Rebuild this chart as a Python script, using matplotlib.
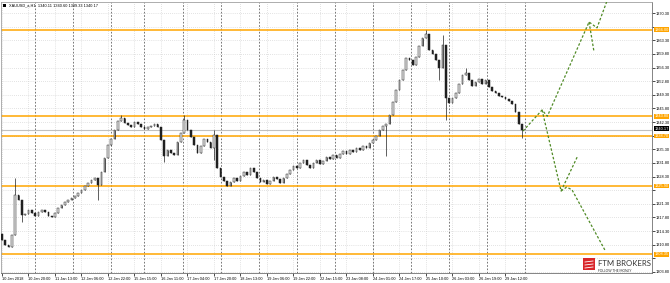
import matplotlib
matplotlib.use("Agg")
import matplotlib.pyplot as plt
from matplotlib.patches import Rectangle
import matplotlib.transforms as mtransforms

closes = [
    1312.0, 1310.7, 1310.2, 1313.3, 1323.6, 1322.3, 1318.4, 1318.7, 1319.7, 1319.0,
    1318.2, 1319.2, 1319.7, 1319.2, 1318.2, 1317.9, 1319.0, 1320.2, 1321.0, 1321.8,
    1322.3, 1322.8, 1323.3, 1324.1, 1324.9, 1325.9, 1326.6, 1327.4, 1327.9, 1326.1,
    1329.5, 1333.1, 1336.4, 1338.0, 1340.3, 1342.6, 1343.3, 1342.1, 1341.6, 1341.0,
    1342.3, 1341.8, 1341.0, 1340.5, 1341.0, 1341.3, 1341.8, 1341.0, 1337.7, 1333.6,
    1335.1, 1334.4, 1333.8, 1337.2, 1339.5, 1342.8, 1340.3, 1338.5, 1336.4, 1334.4,
    1336.2, 1338.0, 1337.2, 1335.6, 1339.0, 1330.5, 1328.2, 1327.2, 1325.9, 1326.9,
    1327.9, 1327.2, 1328.5, 1329.5, 1328.7, 1330.5, 1329.5, 1327.9, 1326.9, 1327.4,
    1326.4, 1327.2, 1328.2, 1327.7, 1326.6, 1327.9, 1329.0, 1330.0, 1331.0, 1330.5,
    1331.8, 1332.6, 1331.3, 1330.5, 1331.8, 1332.6, 1331.5, 1332.3, 1333.3, 1332.8,
    1333.8, 1333.1, 1334.1, 1334.9, 1334.1, 1335.1, 1334.6, 1335.6, 1335.1, 1336.2,
    1335.6, 1336.9, 1337.7, 1338.7, 1340.3, 1341.3, 1341.8, 1344.1, 1347.4, 1350.5,
    1353.1, 1355.7, 1358.7, 1358.2, 1357.0, 1359.0, 1361.8, 1363.9, 1364.9, 1360.8,
    1359.8, 1358.2, 1356.2, 1362.1, 1348.5, 1347.2, 1348.5, 1349.8, 1352.1, 1354.4,
    1354.9, 1353.1, 1351.6, 1352.6, 1353.4, 1352.1, 1353.1, 1351.3, 1350.3, 1349.8,
    1349.0, 1348.7, 1348.2, 1347.7, 1346.9, 1344.9, 1341.8, 1340.17,
]
first_open = 1313.5
wick_high = {4: 1327.9, 36: 1344.1, 55: 1344.1, 64: 1340.3, 128: 1366.0,
             133: 1364.7, 140: 1356.2}
wick_low = {6: 1316.6, 29: 1322.3, 49: 1332.0, 64: 1332.6, 116: 1333.5,
            132: 1353.1, 134: 1342.8, 157: 1338.2}
bars_per_candle = 2

time_labels = ["10 Jan 2018", "10 Jan 20:00", "11 Jan 13:00", "12 Jan 06:00",
               "12 Jan 22:00", "15 Jan 15:00", "16 Jan 11:00", "17 Jan 04:00",
               "17 Jan 20:00", "18 Jan 13:00", "19 Jan 06:00", "19 Jan 22:00",
               "22 Jan 15:00", "23 Jan 08:00", "24 Jan 01:00", "24 Jan 17:00",
               "25 Jan 10:00", "26 Jan 03:00", "26 Jan 19:00", "29 Jan 12:00"]
label_step = 16
day_starts = [20, 43, 66, 86, 109, 132, 155, 178, 201, 224, 247, 270, 293, 316]

levels = [1366.00, 1343.80, 1338.70, 1325.90, 1308.35]
last_price = 1340.17
price_ticks = [1303.80 + 3.5 * k for k in range(20)]

# analyst scenarios (bar index, price)
proj_up = [(314.6, 1340.0), (326.1, 1345.4), (329.3, 1343.8), (354.5, 1368.0),
           (359.3, 1366.5), (366.0, 1374.2)]
proj_up_drop = [(354.5, 1368.0), (357.5, 1360.3)]
proj_down = [(326.1, 1345.4), (337.6, 1324.6), (347.3, 1333.3)]
proj_down2 = [(337.6, 1324.6), (341.0, 1325.6), (344.2, 1324.9), (364.1, 1309.4)]

W, H = 670, 283
fig = plt.figure(figsize=(W / 100, H / 100), dpi=100)
fig.patch.set_facecolor("white")
ax = fig.add_axes([1 / W, 10 / H, 651 / W, 271 / H])
ax.set_xlim(-0.6, 392.5)
ax.set_ylim(1303.54, 1373.14)

ax.grid(True, color="#c8c8c8", linestyle=(0, (1, 2)), linewidth=0.5)
ax.set_axisbelow(True)
for d in day_starts:
    ax.axvline(d, color="#606060", linestyle=(0, (2, 2)), linewidth=0.6, zorder=1)

# candles
prev = first_open
for i, c in enumerate(closes):
    x = i * bars_per_candle
    o = prev
    hi = wick_high.get(i, max(o, c))
    lo = wick_low.get(i, min(o, c))
    ax.vlines(x, lo, hi, color="#202020", linewidth=0.5, zorder=3)
    bottom = min(o, c)
    h = max(abs(c - o), 0.08)
    face = "#e8e8e8" if c >= o else "#202020"
    ax.add_patch(Rectangle((x - 0.5, bottom), 1.0, h, facecolor=face,
                           edgecolor="#202020", linewidth=0.35, zorder=4))
    prev = c

for lv in levels:
    ax.axhline(lv, color="#ffa500", linewidth=1.1, zorder=2)
ax.axhline(last_price, color="#c0c0c0", linewidth=0.8, zorder=2)

green = "#4f8a25"
for path in (proj_up, proj_up_drop, proj_down, proj_down2):
    xs = [p[0] for p in path]
    ys = [p[1] for p in path]
    ax.plot(xs, ys, color=green, linestyle=(0, (2, 1.5)), linewidth=0.9, zorder=5)

# axes styling; price labels hidden under the level boxes are left blank
boxed = levels + [last_price]
ax.yaxis.tick_right()
ax.set_yticks(price_ticks)
ax.set_yticklabels(["" if min(abs(v - b) for b in boxed) < 1.3 else f"{v:.2f}"
                    for v in price_ticks])
ax.set_xticks([k * label_step for k in range(len(time_labels))])
ax.set_xticklabels(time_labels, ha="left")
ax.tick_params(axis="both", labelsize=2.8, length=2, width=0.5, pad=1,
               colors="black")
for lab in ax.get_xticklabels() + ax.get_yticklabels():
    lab.set_family("Liberation Sans")
ax.spines["left"].set_color("#a0a0a0")
ax.spines["top"].set_color("#a0a0a0")
ax.spines["right"].set_color("#707070")
ax.spines["bottom"].set_color("#707070")
for s in ax.spines.values():
    s.set_linewidth(0.6)

trans = mtransforms.blended_transform_factory(ax.transAxes, ax.transData)
for lv in levels:
    ax.text(1.004, lv, f"{lv:.2f}", transform=trans, fontsize=2.8, color="white",
            family="Liberation Sans", ha="left", va="center", clip_on=False,
            zorder=10, bbox=dict(boxstyle="square,pad=0.1", fc="#ffa500", ec="none"))
ax.text(1.004, last_price + 0.45, f"{last_price:.2f}", transform=trans,
        fontsize=2.8, color="white", family="Liberation Sans", ha="left",
        va="center", clip_on=False, zorder=10,
        bbox=dict(boxstyle="square,pad=0.1", fc="black", ec="none"))

# header
fig.patches.append(Rectangle((3 / W, 1 - 7 / H), 3 / W, 3 / H, transform=fig.transFigure,
                             facecolor="black", edgecolor="none"))
fig.text(9 / W, 1 - 5.5 / H, "XAUUSD_a,H1  1340.11 1340.60 1339.33 1340.17",
         fontsize=2.8, family="Liberation Sans", va="center", ha="left")

# logo
fig.patches.append(Rectangle((583 / W, 1 - 270 / H), 12 / W, 12 / H,
                             transform=fig.transFigure, facecolor="#d9262b",
                             edgecolor="none", zorder=20))
for k in range(3):
    y0 = 261 + k * 3
    fig.lines.append(plt.Line2D([585 / W, 593 / W], [1 - (y0 + 1) / H, 1 - y0 / H],
                                transform=fig.transFigure, color="white",
                                linewidth=0.6, zorder=21))
fig.text(598 / W, 1 - 263.5 / H, "FTM BROKERS", fontsize=5.6, family="Lato",
         color="#333333", va="center", ha="left", zorder=22)
fig.text(598 / W, 1 - 270.5 / H, "FOLLOW THE MONEY", fontsize=2.3, family="Lato",
         color="#333333", va="center", ha="left", zorder=22)

fig.savefig("out.png", dpi=100)
